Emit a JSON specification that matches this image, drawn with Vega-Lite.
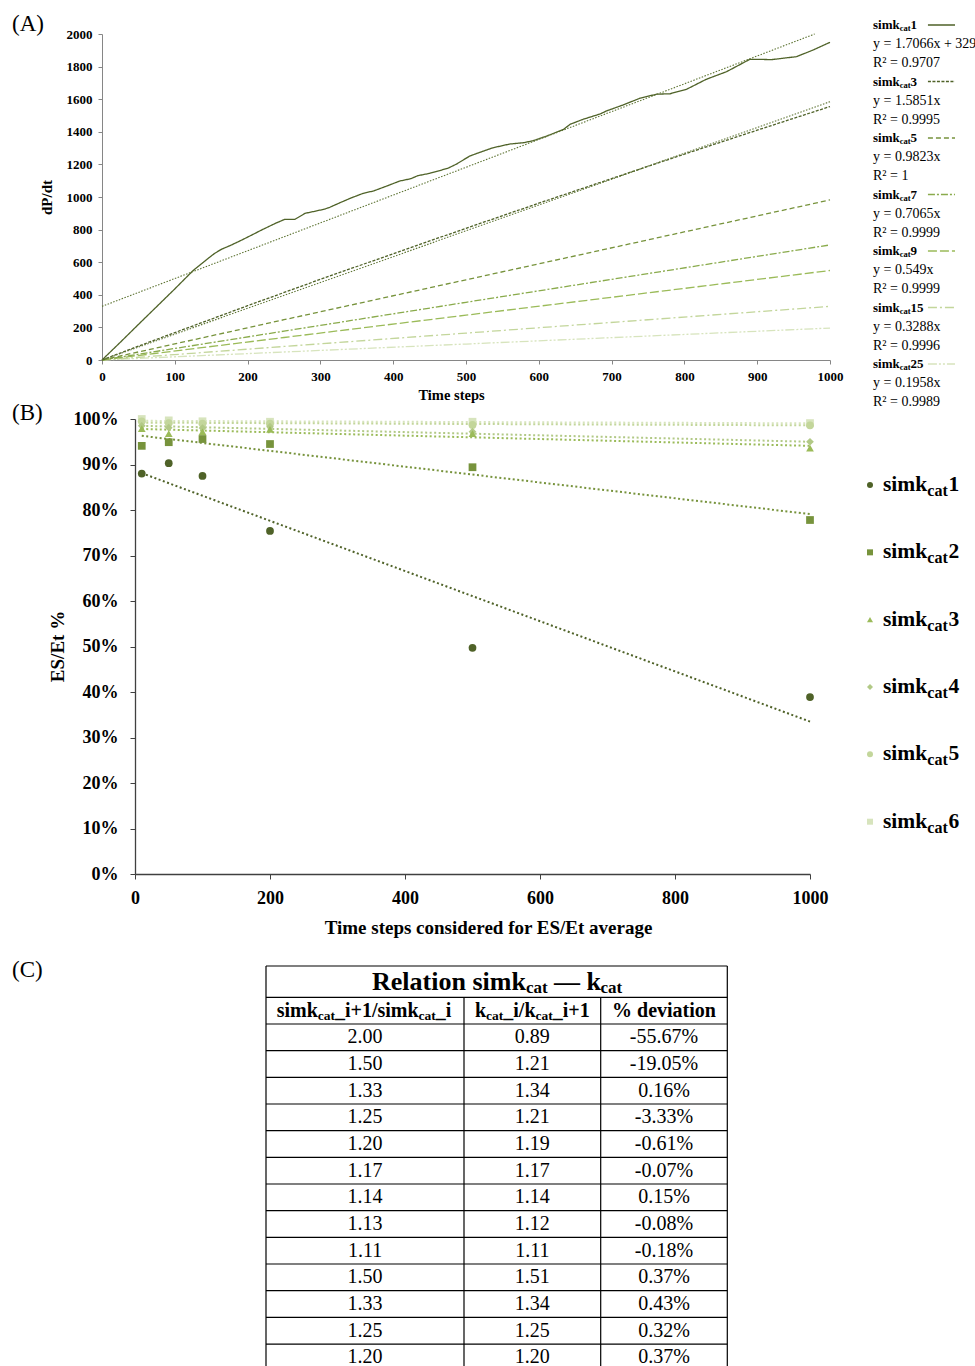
{
"$schema": "https://vega.github.io/schema/vega-lite/v6.json",
"width": 975, "height": 1366, "autosize": "none", "padding": 0, "background": "white",
"config": {"view": {"stroke": null}, "font": "Liberation Serif", "text": {"font": "Liberation Serif", "color": "#000"}, "rule": {"color": "#000"}},
"datasets": {
"dpdt": [
{"series":"simk_cat25","t":0,"v":0},{"series":"simk_cat25","t":250,"v":49},{"series":"simk_cat25","t":500,"v":98},{"series":"simk_cat25","t":750,"v":147},{"series":"simk_cat25","t":1000,"v":196},
{"series":"simk_cat15","t":0,"v":0},{"series":"simk_cat15","t":250,"v":83},{"series":"simk_cat15","t":500,"v":165},{"series":"simk_cat15","t":750,"v":247},{"series":"simk_cat15","t":1000,"v":329},
{"series":"simk_cat9","t":0,"v":0},{"series":"simk_cat9","t":250,"v":138},{"series":"simk_cat9","t":500,"v":275},{"series":"simk_cat9","t":750,"v":412},{"series":"simk_cat9","t":1000,"v":549},
{"series":"simk_cat7","t":0,"v":0},{"series":"simk_cat7","t":250,"v":177},{"series":"simk_cat7","t":500,"v":354},{"series":"simk_cat7","t":750,"v":530},{"series":"simk_cat7","t":1000,"v":706},
{"series":"simk_cat5","t":0,"v":0},{"series":"simk_cat5","t":250,"v":247},{"series":"simk_cat5","t":500,"v":492},{"series":"simk_cat5","t":750,"v":737},{"series":"simk_cat5","t":1000,"v":982},
{"series":"simk_cat3","t":0,"v":0},{"series":"simk_cat3","t":50,"v":85},{"series":"simk_cat3","t":100,"v":168},{"series":"simk_cat3","t":200,"v":333},{"series":"simk_cat3","t":300,"v":495},{"series":"simk_cat3","t":400,"v":652},{"series":"simk_cat3","t":500,"v":808},{"series":"simk_cat3","t":600,"v":962},{"series":"simk_cat3","t":700,"v":1113},{"series":"simk_cat3","t":800,"v":1263},{"series":"simk_cat3","t":900,"v":1410},{"series":"simk_cat3","t":1000,"v":1555},
{"series":"simk_cat1","t":0,"v":0},{"series":"simk_cat1","t":25,"v":108},{"series":"simk_cat1","t":50,"v":218},{"series":"simk_cat1","t":75,"v":327},{"series":"simk_cat1","t":100,"v":436},{"series":"simk_cat1","t":125,"v":548},{"series":"simk_cat1","t":146,"v":624},{"series":"simk_cat1","t":155,"v":655},{"series":"simk_cat1","t":164,"v":679},{"series":"simk_cat1","t":178,"v":706},{"series":"simk_cat1","t":192,"v":736},{"series":"simk_cat1","t":205,"v":765},{"series":"simk_cat1","t":219,"v":797},{"series":"simk_cat1","t":238,"v":838},{"series":"simk_cat1","t":251,"v":863},{"series":"simk_cat1","t":265,"v":863},{"series":"simk_cat1","t":279,"v":900},{"series":"simk_cat1","t":292,"v":912},{"series":"simk_cat1","t":306,"v":926},{"series":"simk_cat1","t":313,"v":937},{"series":"simk_cat1","t":327,"v":965},{"series":"simk_cat1","t":341,"v":992},{"series":"simk_cat1","t":359,"v":1023},{"series":"simk_cat1","t":373,"v":1037},{"series":"simk_cat1","t":391,"v":1067},{"series":"simk_cat1","t":409,"v":1098},{"series":"simk_cat1","t":424,"v":1112},{"series":"simk_cat1","t":434,"v":1131},{"series":"simk_cat1","t":450,"v":1145},{"series":"simk_cat1","t":475,"v":1176},{"series":"simk_cat1","t":487,"v":1202},{"series":"simk_cat1","t":505,"v":1251},{"series":"simk_cat1","t":519,"v":1274},{"series":"simk_cat1","t":537,"v":1302},{"series":"simk_cat1","t":560,"v":1325},{"series":"simk_cat1","t":579,"v":1333},{"series":"simk_cat1","t":592,"v":1345},{"series":"simk_cat1","t":611,"v":1374},{"series":"simk_cat1","t":634,"v":1415},{"series":"simk_cat1","t":643,"v":1446},{"series":"simk_cat1","t":661,"v":1477},{"series":"simk_cat1","t":684,"v":1509},{"series":"simk_cat1","t":693,"v":1528},{"series":"simk_cat1","t":716,"v":1565},{"series":"simk_cat1","t":739,"v":1606},{"series":"simk_cat1","t":762,"v":1631},{"series":"simk_cat1","t":780,"v":1633},{"series":"simk_cat1","t":803,"v":1661},{"series":"simk_cat1","t":830,"v":1722},{"series":"simk_cat1","t":858,"v":1769},{"series":"simk_cat1","t":890,"v":1845},{"series":"simk_cat1","t":920,"v":1843},{"series":"simk_cat1","t":954,"v":1861},{"series":"simk_cat1","t":977,"v":1902},{"series":"simk_cat1","t":1000,"v":1949}
],
"dpdtTrend": [
{"series":"simk_cat1","t":0,"v":329},{"series":"simk_cat1","t":979,"v":2000},
{"series":"simk_cat3","t":0,"v":0},{"series":"simk_cat3","t":1000,"v":1585}
],
"legendA": [
{"i":0,"series":"simk_cat1","num":"1","eq":"y = 1.7066x + 329","r2":"R² = 0.9707"},
{"i":1,"series":"simk_cat3","num":"3","eq":"y = 1.5851x","r2":"R² = 0.9995"},
{"i":2,"series":"simk_cat5","num":"5","eq":"y = 0.9823x","r2":"R² = 1"},
{"i":3,"series":"simk_cat7","num":"7","eq":"y = 0.7065x","r2":"R² = 0.9999"},
{"i":4,"series":"simk_cat9","num":"9","eq":"y = 0.549x","r2":"R² = 0.9999"},
{"i":5,"series":"simk_cat15","num":"15","eq":"y = 0.3288x","r2":"R² = 0.9996"},
{"i":6,"series":"simk_cat25","num":"25","eq":"y = 0.1958x","r2":"R² = 0.9989"}
],
"es": [
{"series":"simk_cat6","t":10,"v":1.0},{"series":"simk_cat6","t":50,"v":0.997},{"series":"simk_cat6","t":100,"v":0.995},{"series":"simk_cat6","t":200,"v":0.994},{"series":"simk_cat6","t":500,"v":0.994},{"series":"simk_cat6","t":1000,"v":0.991},
{"series":"simk_cat5","t":10,"v":0.995},{"series":"simk_cat5","t":50,"v":0.991},{"series":"simk_cat5","t":100,"v":0.99},{"series":"simk_cat5","t":200,"v":0.99},{"series":"simk_cat5","t":500,"v":0.987},{"series":"simk_cat5","t":1000,"v":0.986},
{"series":"simk_cat4","t":10,"v":0.985},{"series":"simk_cat4","t":50,"v":0.981},{"series":"simk_cat4","t":100,"v":0.98},{"series":"simk_cat4","t":200,"v":0.983},{"series":"simk_cat4","t":500,"v":0.972},{"series":"simk_cat4","t":1000,"v":0.95},
{"series":"simk_cat3","t":10,"v":0.979},{"series":"simk_cat3","t":50,"v":0.968},{"series":"simk_cat3","t":100,"v":0.972},{"series":"simk_cat3","t":200,"v":0.977},{"series":"simk_cat3","t":500,"v":0.968},{"series":"simk_cat3","t":1000,"v":0.936},
{"series":"simk_cat2","t":10,"v":0.941},{"series":"simk_cat2","t":50,"v":0.949},{"series":"simk_cat2","t":100,"v":0.956},{"series":"simk_cat2","t":200,"v":0.945},{"series":"simk_cat2","t":500,"v":0.894},{"series":"simk_cat2","t":1000,"v":0.778},
{"series":"simk_cat1","t":10,"v":0.88},{"series":"simk_cat1","t":50,"v":0.903},{"series":"simk_cat1","t":100,"v":0.875},{"series":"simk_cat1","t":200,"v":0.754},{"series":"simk_cat1","t":500,"v":0.497},{"series":"simk_cat1","t":1000,"v":0.389}
],
"esTrend": [
{"series":"simk_cat6","t":10,"v":0.996},{"series":"simk_cat6","t":1000,"v":0.9905},
{"series":"simk_cat5","t":10,"v":0.992},{"series":"simk_cat5","t":1000,"v":0.986},
{"series":"simk_cat4","t":10,"v":0.985},{"series":"simk_cat4","t":1000,"v":0.95},
{"series":"simk_cat3","t":10,"v":0.978},{"series":"simk_cat3","t":1000,"v":0.941},
{"series":"simk_cat2","t":10,"v":0.963},{"series":"simk_cat2","t":1000,"v":0.791},
{"series":"simk_cat1","t":10,"v":0.881},{"series":"simk_cat1","t":1000,"v":0.335}
],
"legendB": [
{"i":0,"series":"simk_cat1","num":"1"},{"i":1,"series":"simk_cat2","num":"2"},{"i":2,"series":"simk_cat3","num":"3"},
{"i":3,"series":"simk_cat4","num":"4"},{"i":4,"series":"simk_cat5","num":"5"},{"i":5,"series":"simk_cat6","num":"6"}
],
"tableRows": [
{"r":2,"a":"2.00","b":"0.89","c":"-55.67%"},
{"r":3,"a":"1.50","b":"1.21","c":"-19.05%"},
{"r":4,"a":"1.33","b":"1.34","c":"0.16%"},
{"r":5,"a":"1.25","b":"1.21","c":"-3.33%"},
{"r":6,"a":"1.20","b":"1.19","c":"-0.61%"},
{"r":7,"a":"1.17","b":"1.17","c":"-0.07%"},
{"r":8,"a":"1.14","b":"1.14","c":"0.15%"},
{"r":9,"a":"1.13","b":"1.12","c":"-0.08%"},
{"r":10,"a":"1.11","b":"1.11","c":"-0.18%"},
{"r":11,"a":"1.50","b":"1.51","c":"0.37%"},
{"r":12,"a":"1.33","b":"1.34","c":"0.43%"},
{"r":13,"a":"1.25","b":"1.25","c":"0.32%"},
{"r":14,"a":"1.20","b":"1.20","c":"0.37%"}
],
"tableH": [{"h":-0.5},{"h":0.5},{"h":1.5},{"h":2.5},{"h":3.5},{"h":4.5},{"h":5.5},{"h":6.5},{"h":7.5},{"h":8.5},{"h":9.5},{"h":10.5},{"h":11.5},{"h":12.5},{"h":13.5},{"h":14.5}],
"tableV": [{"v":-0.5,"top":-0.5},{"v":0.5,"top":0.5},{"v":1.5,"top":0.5},{"v":2.5,"top":-0.5}],
"headerRow": [{"r":1}],
"titleRow": [{"r":0}],
"panels": [{"label":"(A)","p":0},{"label":"(B)","p":1},{"label":"(C)","p":2}]
},
"layer": [
{"layer": [
 {"data": {"name": "dpdt"}, "mark": {"type": "line", "strokeWidth": 1.3},
  "encoding": {
   "x": {"field": "t", "type": "quantitative", "scale": {"domain": [0,1000], "range": [102,830], "nice": false, "zero": false},
     "axis": {"orient": "bottom", "offset": -1006, "values": [0,100,200,300,400,500,600,700,800,900,1000], "format": "d", "grid": false, "labelFlush": false, "labelOverlap": false, "domainColor": "#868686", "tickColor": "#868686", "tickSize": 4, "labelPadding": 6, "labelFont": "Liberation Serif", "labelFontSize": 13, "labelFontWeight": "bold", "labelColor": "#000", "title": "Time steps", "titleFont": "Liberation Serif", "titleFontSize": 14.5, "titleFontWeight": "bold", "titleColor": "#000", "titleX": 451, "titleY": 35, "titleBaseline": "middle", "titleAlign": "center"}},
   "y": {"field": "v", "type": "quantitative", "scale": {"domain": [0,2000], "range": [360,34], "nice": false, "zero": false},
     "axis": {"orient": "left", "offset": -102, "values": [0,200,400,600,800,1000,1200,1400,1600,1800,2000], "format": "d", "grid": false, "labelFlush": false, "labelOverlap": false, "domainColor": "#868686", "tickColor": "#868686", "tickSize": 4, "labelPadding": 6, "labelFont": "Liberation Serif", "labelFontSize": 13, "labelFontWeight": "bold", "labelColor": "#000", "title": "dP/dt", "titleFont": "Liberation Serif", "titleFontSize": 15, "titleFontWeight": "bold", "titleColor": "#000", "titleX": -56, "titleY": 197, "titleAngle": -90, "titleBaseline": "middle", "titleAlign": "center"}},
   "color": {"field": "series", "type": "nominal", "legend": null, "scale": {"domain": ["simk_cat1","simk_cat3","simk_cat5","simk_cat7","simk_cat9","simk_cat15","simk_cat25"], "range": ["#4f6228","#4f6228","#77933c","#8aab4c","#9bbb59","#c3d69b","#d7e4bd"]}},
   "strokeDash": {"field": "series", "type": "nominal", "legend": null, "scale": {"domain": ["simk_cat1","simk_cat3","simk_cat5","simk_cat7","simk_cat9","simk_cat15","simk_cat25"], "range": [[1,0],[3,1.5],[5,3],[7,2,2,2],[9,3],[9,3,2,3],[9,2,2,2,2,2]]}}
  }},
 {"data": {"name": "dpdtTrend"}, "mark": {"type": "line", "strokeWidth": 1.1, "strokeDash": [1.5,1.5], "color": "#5f7535"},
  "encoding": {"x": {"field": "t", "type": "quantitative"}, "y": {"field": "v", "type": "quantitative"}, "detail": {"field": "series", "type": "nominal"}}}
]},
{"data": {"name": "legendA"}, "layer": [
 {"mark": {"type": "text", "align": "left", "baseline": "middle", "fontSize": 13, "fontWeight": "bold"},
  "encoding": {"x": {"datum": 0, "type": "quantitative", "scale": {"domain": [0,1], "range": [873,955], "nice": false, "zero": false}, "axis": null},
   "y": {"field": "i", "type": "quantitative", "scale": {"domain": [0,6], "range": [25,364], "nice": false, "zero": false}, "axis": null},
   "text": {"value": "simk"}}},
 {"mark": {"type": "text", "align": "left", "baseline": "middle", "fontSize": 8.5, "fontWeight": "bold", "dx": 26.7, "dy": 3},
  "encoding": {"x": {"datum": 0, "type": "quantitative"}, "y": {"field": "i", "type": "quantitative"}, "text": {"value": "cat"}}},
 {"mark": {"type": "text", "align": "left", "baseline": "middle", "fontSize": 13, "fontWeight": "bold", "dx": 37.6},
  "encoding": {"x": {"datum": 0, "type": "quantitative"}, "y": {"field": "i", "type": "quantitative"}, "text": {"field": "num"}}},
 {"mark": {"type": "text", "align": "left", "baseline": "middle", "fontSize": 14, "dy": 19},
  "encoding": {"x": {"datum": 0, "type": "quantitative"}, "y": {"field": "i", "type": "quantitative"}, "text": {"field": "eq"}}},
 {"mark": {"type": "text", "align": "left", "baseline": "middle", "fontSize": 14, "dy": 38},
  "encoding": {"x": {"datum": 0, "type": "quantitative"}, "y": {"field": "i", "type": "quantitative"}, "text": {"field": "r2"}}},
 {"mark": {"type": "rule", "strokeWidth": 1.3},
  "encoding": {"x": {"datum": 0.67, "type": "quantitative"}, "x2": {"datum": 1}, "y": {"field": "i", "type": "quantitative"},
   "color": {"field": "series", "type": "nominal", "legend": null, "scale": {"domain": ["simk_cat1","simk_cat3","simk_cat5","simk_cat7","simk_cat9","simk_cat15","simk_cat25"], "range": ["#4f6228","#4f6228","#77933c","#8aab4c","#9bbb59","#c3d69b","#d7e4bd"]}},
   "strokeDash": {"field": "series", "type": "nominal", "legend": null, "scale": {"domain": ["simk_cat1","simk_cat3","simk_cat5","simk_cat7","simk_cat9","simk_cat15","simk_cat25"], "range": [[1,0],[3,1.5],[5,3],[7,2,2,2],[9,3],[9,3,2,3],[9,2,2,2,2,2]]}}}}
]},
{"layer": [
 {"data": {"name": "esTrend"}, "mark": {"type": "line", "strokeWidth": 2, "strokeDash": [2,2.5]},
  "encoding": {
   "x": {"field": "t", "type": "quantitative", "scale": {"domain": [0,1000], "range": [135,810], "nice": false, "zero": false},
     "axis": {"orient": "bottom", "offset": -492, "values": [0,200,400,600,800,1000], "format": "d", "grid": false, "labelFlush": false, "labelOverlap": false, "domainColor": "#404040", "domainWidth": 1.3, "tickColor": "#404040", "tickSize": 5, "labelPadding": 10, "labelFont": "Liberation Serif", "labelFontSize": 18, "labelFontWeight": "bold", "labelColor": "#000", "title": "Time steps considered for ES/Et average", "titleFont": "Liberation Serif", "titleFontSize": 19, "titleFontWeight": "bold", "titleColor": "#000", "titleX": 488, "titleY": 53, "titleBaseline": "middle", "titleAlign": "center"}},
   "y": {"field": "v", "type": "quantitative", "scale": {"domain": [0,1], "range": [874,419], "nice": false, "zero": false},
     "axis": {"orient": "left", "offset": -135, "values": [0,0.1,0.2,0.3,0.4,0.5,0.6,0.7,0.8,0.9,1], "format": ".0%", "grid": false, "labelFlush": false, "labelOverlap": false, "domainColor": "#404040", "domainWidth": 1.3, "tickColor": "#404040", "tickSize": 5, "labelPadding": 12, "labelFont": "Liberation Serif", "labelFontSize": 18, "labelFontWeight": "bold", "labelColor": "#000", "title": "ES/Et %", "titleFont": "Liberation Serif", "titleFontSize": 19, "titleFontWeight": "bold", "titleColor": "#000", "titleX": -78, "titleY": 646, "titleAngle": -90, "titleBaseline": "middle", "titleAlign": "center"}},
   "color": {"field": "series", "type": "nominal", "legend": null, "scale": {"domain": ["simk_cat1","simk_cat2","simk_cat3","simk_cat4","simk_cat5","simk_cat6"], "range": ["#4f6228","#77933c","#9bbb59","#b2c986","#c3d69b","#d7e4bd"]}}
  }},
 {"data": {"name": "es"}, "mark": {"type": "point", "filled": true, "size": 60, "opacity": 1},
  "encoding": {"x": {"field": "t", "type": "quantitative"}, "y": {"field": "v", "type": "quantitative"},
   "color": {"field": "series", "type": "nominal", "legend": null},
   "shape": {"field": "series", "type": "nominal", "legend": null, "scale": {"domain": ["simk_cat1","simk_cat2","simk_cat3","simk_cat4","simk_cat5","simk_cat6"], "range": ["circle","square","triangle-up","diamond","circle","square"]}}}}
]},
{"data": {"name": "legendB"}, "layer": [
 {"mark": {"type": "point", "filled": true, "size": 36, "opacity": 1},
  "encoding": {"x": {"datum": 0, "type": "quantitative", "scale": {"domain": [0,1], "range": [870,883], "nice": false, "zero": false}, "axis": null},
   "y": {"field": "i", "type": "quantitative", "scale": {"domain": [0,5], "range": [485,821.7], "nice": false, "zero": false}, "axis": null},
   "color": {"field": "series", "type": "nominal", "legend": null, "scale": {"domain": ["simk_cat1","simk_cat2","simk_cat3","simk_cat4","simk_cat5","simk_cat6"], "range": ["#4f6228","#77933c","#9bbb59","#b2c986","#c3d69b","#d7e4bd"]}},
   "shape": {"field": "series", "type": "nominal", "legend": null, "scale": {"domain": ["simk_cat1","simk_cat2","simk_cat3","simk_cat4","simk_cat5","simk_cat6"], "range": ["circle","square","triangle-up","diamond","circle","square"]}}}},
 {"mark": {"type": "text", "align": "left", "baseline": "middle", "fontSize": 21.5, "fontWeight": "bold"},
  "encoding": {"x": {"datum": 1, "type": "quantitative"}, "y": {"field": "i", "type": "quantitative"}, "text": {"value": "simk"}}},
 {"mark": {"type": "text", "align": "left", "baseline": "middle", "fontSize": 16, "fontWeight": "bold", "dx": 44.3, "dy": 6},
  "encoding": {"x": {"datum": 1, "type": "quantitative"}, "y": {"field": "i", "type": "quantitative"}, "text": {"value": "cat"}}},
 {"mark": {"type": "text", "align": "left", "baseline": "middle", "fontSize": 21.5, "fontWeight": "bold", "dx": 65.5},
  "encoding": {"x": {"datum": 1, "type": "quantitative"}, "y": {"field": "i", "type": "quantitative"}, "text": {"field": "num"}}}
]},
{"layer": [
 {"data": {"name": "tableH"}, "mark": {"type": "rule", "strokeWidth": 1.2, "color": "#000"},
  "encoding": {"y": {"field": "h", "type": "quantitative", "scale": {"domain": [-0.5,0.5,1.5,14.5], "range": [966,997.3,1024,1370.7], "nice": false, "zero": false}, "axis": null},
   "x": {"datum": -0.5, "type": "quantitative", "scale": {"domain": [-0.5,0.5,1.5,2.5], "range": [266,464,600.7,727.3], "nice": false, "zero": false}, "axis": null},
   "x2": {"datum": 2.5}}},
 {"data": {"name": "tableV"}, "mark": {"type": "rule", "strokeWidth": 1.2, "color": "#000"},
  "encoding": {"x": {"field": "v", "type": "quantitative"}, "y": {"field": "top", "type": "quantitative"}, "y2": {"datum": 14.5}}},
 {"data": {"name": "tableRows"}, "mark": {"type": "text", "align": "center", "baseline": "middle", "fontSize": 20},
  "encoding": {"x": {"datum": 0, "type": "quantitative"}, "y": {"field": "r", "type": "quantitative"}, "text": {"field": "a"}}},
 {"data": {"name": "tableRows"}, "mark": {"type": "text", "align": "center", "baseline": "middle", "fontSize": 20},
  "encoding": {"x": {"datum": 1, "type": "quantitative"}, "y": {"field": "r", "type": "quantitative"}, "text": {"field": "b"}}},
 {"data": {"name": "tableRows"}, "mark": {"type": "text", "align": "center", "baseline": "middle", "fontSize": 20},
  "encoding": {"x": {"datum": 2, "type": "quantitative"}, "y": {"field": "r", "type": "quantitative"}, "text": {"field": "c"}}},
 {"data": {"name": "headerRow"}, "mark": {"type": "text", "align": "left", "baseline": "middle", "fontSize": 20, "fontWeight": "bold", "dx": 10.7},
  "encoding": {"x": {"datum": -0.5, "type": "quantitative"}, "y": {"field": "r", "type": "quantitative"}, "text": {"value": "simk"}}},
 {"data": {"name": "headerRow"}, "mark": {"type": "text", "align": "left", "baseline": "middle", "fontSize": 13.5, "fontWeight": "bold", "dx": 51.8, "dy": 5},
  "encoding": {"x": {"datum": -0.5, "type": "quantitative"}, "y": {"field": "r", "type": "quantitative"}, "text": {"value": "cat"}}},
 {"data": {"name": "headerRow"}, "mark": {"type": "text", "align": "left", "baseline": "middle", "fontSize": 20, "fontWeight": "bold", "dx": 69.0},
  "encoding": {"x": {"datum": -0.5, "type": "quantitative"}, "y": {"field": "r", "type": "quantitative"}, "text": {"value": "_i+1/simk"}}},
 {"data": {"name": "headerRow"}, "mark": {"type": "text", "align": "left", "baseline": "middle", "fontSize": 13.5, "fontWeight": "bold", "dx": 152.6, "dy": 5},
  "encoding": {"x": {"datum": -0.5, "type": "quantitative"}, "y": {"field": "r", "type": "quantitative"}, "text": {"value": "cat"}}},
 {"data": {"name": "headerRow"}, "mark": {"type": "text", "align": "left", "baseline": "middle", "fontSize": 20, "fontWeight": "bold", "dx": 169.8},
  "encoding": {"x": {"datum": -0.5, "type": "quantitative"}, "y": {"field": "r", "type": "quantitative"}, "text": {"value": "_i"}}},
 {"data": {"name": "headerRow"}, "mark": {"type": "text", "align": "left", "baseline": "middle", "fontSize": 20, "fontWeight": "bold", "dx": 209},
  "encoding": {"x": {"datum": -0.5, "type": "quantitative"}, "y": {"field": "r", "type": "quantitative"}, "text": {"value": "k"}}},
 {"data": {"name": "headerRow"}, "mark": {"type": "text", "align": "left", "baseline": "middle", "fontSize": 13.5, "fontWeight": "bold", "dx": 220.1, "dy": 5},
  "encoding": {"x": {"datum": -0.5, "type": "quantitative"}, "y": {"field": "r", "type": "quantitative"}, "text": {"value": "cat"}}},
 {"data": {"name": "headerRow"}, "mark": {"type": "text", "align": "left", "baseline": "middle", "fontSize": 20, "fontWeight": "bold", "dx": 237.3},
  "encoding": {"x": {"datum": -0.5, "type": "quantitative"}, "y": {"field": "r", "type": "quantitative"}, "text": {"value": "_i/k"}}},
 {"data": {"name": "headerRow"}, "mark": {"type": "text", "align": "left", "baseline": "middle", "fontSize": 13.5, "fontWeight": "bold", "dx": 269.5, "dy": 5},
  "encoding": {"x": {"datum": -0.5, "type": "quantitative"}, "y": {"field": "r", "type": "quantitative"}, "text": {"value": "cat"}}},
 {"data": {"name": "headerRow"}, "mark": {"type": "text", "align": "left", "baseline": "middle", "fontSize": 20, "fontWeight": "bold", "dx": 286.7},
  "encoding": {"x": {"datum": -0.5, "type": "quantitative"}, "y": {"field": "r", "type": "quantitative"}, "text": {"value": "_i+1"}}},
 {"data": {"name": "headerRow"}, "mark": {"type": "text", "align": "center", "baseline": "middle", "fontSize": 20, "fontWeight": "bold"},
  "encoding": {"x": {"datum": 2, "type": "quantitative"}, "y": {"field": "r", "type": "quantitative"}, "text": {"value": "% deviation"}}},
 {"data": {"name": "titleRow"}, "mark": {"type": "text", "align": "left", "baseline": "middle", "fontSize": 26, "fontWeight": "bold", "dx": 106},
  "encoding": {"x": {"datum": -0.5, "type": "quantitative"}, "y": {"field": "r", "type": "quantitative"}, "text": {"value": "Relation simk"}}},
 {"data": {"name": "titleRow"}, "mark": {"type": "text", "align": "left", "baseline": "middle", "fontSize": 17, "fontWeight": "bold", "dx": 260, "dy": 6},
  "encoding": {"x": {"datum": -0.5, "type": "quantitative"}, "y": {"field": "r", "type": "quantitative"}, "text": {"value": "cat"}}},
 {"data": {"name": "titleRow"}, "mark": {"type": "text", "align": "left", "baseline": "middle", "fontSize": 26, "fontWeight": "bold", "dx": 288},
  "encoding": {"x": {"datum": -0.5, "type": "quantitative"}, "y": {"field": "r", "type": "quantitative"}, "text": {"value": "— k"}}},
 {"data": {"name": "titleRow"}, "mark": {"type": "text", "align": "left", "baseline": "middle", "fontSize": 17, "fontWeight": "bold", "dx": 334.5, "dy": 6},
  "encoding": {"x": {"datum": -0.5, "type": "quantitative"}, "y": {"field": "r", "type": "quantitative"}, "text": {"value": "cat"}}}
]},
{"data": {"name": "panels"}, "mark": {"type": "text", "align": "left", "baseline": "middle", "fontSize": 23},
 "encoding": {"x": {"datum": 0, "type": "quantitative", "scale": {"domain": [0,1], "range": [12,60], "nice": false, "zero": false}, "axis": null},
  "y": {"field": "p", "type": "quantitative", "scale": {"domain": [0,1,2], "range": [24,413,970], "nice": false, "zero": false}, "axis": null},
  "text": {"field": "label"}}}
],
"resolve": {"scale": {"x": "independent", "y": "independent", "color": "independent", "strokeDash": "independent", "shape": "independent"}, "axis": {"x": "independent", "y": "independent"}}
}
